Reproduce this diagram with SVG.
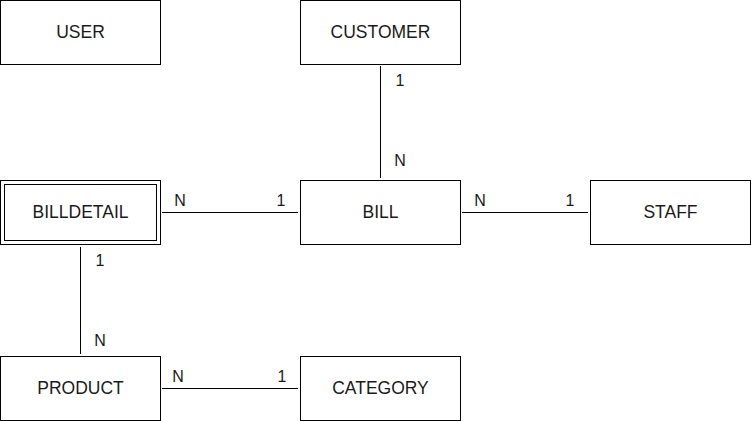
<svg xmlns="http://www.w3.org/2000/svg" width="751" height="421" viewBox="0 0 751 421">
<style>
.box{fill:#fff;stroke:#000;stroke-width:1}
.t{font-family:"Liberation Sans",Arial,sans-serif;font-size:17.5px;fill:#1a1a1a;text-anchor:middle;dominant-baseline:central}
.l{font-family:"Liberation Sans",Arial,sans-serif;font-size:16px;fill:#1a1a1a;text-anchor:middle}
.c{stroke:#000;stroke-width:1;fill:none}
</style>
<rect width="751" height="421" fill="#fff"/>
<g id="connectors">
<path class="c" d="M162,212.5H298"/>
<path class="c" d="M380.5,66V178"/>
<path class="c" d="M462,212.5H588"/>
<path class="c" d="M80.5,247V354"/>
<path class="c" d="M162,388.5H298"/>
<text class="l" x="180" y="206">N</text>
<text class="l" x="281" y="206">1</text>
<text class="l" x="400" y="86">1</text>
<text class="l" x="400" y="166">N</text>
<text class="l" x="480" y="206">N</text>
<text class="l" x="570" y="206">1</text>
<text class="l" x="100" y="266">1</text>
<text class="l" x="100" y="346">N</text>
<text class="l" x="178" y="382">N</text>
<text class="l" x="282" y="382">1</text>
</g>
<g id="user"><rect class="box" x="0.5" y="0.5" width="160" height="64"/><text class="t" x="80.5" y="32">USER</text></g>
<g id="customer"><rect class="box" x="300.5" y="0.5" width="160" height="64"/><text class="t" x="380.5" y="32">CUSTOMER</text></g>
<g id="billdetail"><rect class="box" x="0.5" y="180.5" width="160" height="64"/><rect class="box" x="4.5" y="184.5" width="152" height="56"/><text class="t" x="80.5" y="212">BILLDETAIL</text></g>
<g id="bill"><rect class="box" x="300.5" y="180.5" width="160" height="64"/><text class="t" x="380.5" y="212">BILL</text></g>
<g id="staff"><rect class="box" x="590.5" y="180.5" width="160" height="64"/><text class="t" x="670.5" y="212">STAFF</text></g>
<g id="product"><rect class="box" x="0.5" y="356.5" width="160" height="64"/><text class="t" x="80.5" y="388">PRODUCT</text></g>
<g id="category"><rect class="box" x="300.5" y="356.5" width="160" height="64"/><text class="t" x="380.5" y="388">CATEGORY</text></g>
</svg>
